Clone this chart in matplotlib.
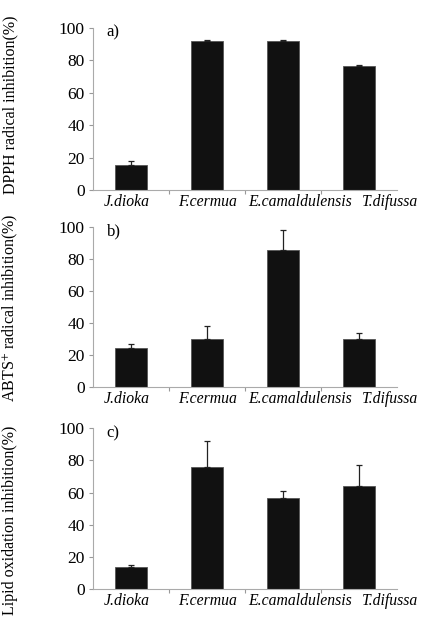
import matplotlib
matplotlib.use("Agg")
import matplotlib.pyplot as plt
import matplotlib.transforms as mtransforms
import numpy as np

categories = ["J.dioka", "F.cermua", "E.camaldulensis", "T.difussa"]
dpph = [15.2, 91.8, 92.2, 76.4]
dpph_err = [2.8, 0.6, 0.5, 0.6]
abts = [24.0, 29.6, 85.5, 29.6]
abts_err = [2.6, 8.6, 12.3, 3.7]
lipid = [13.6, 75.8, 56.7, 64.4]
lipid_err = [1.6, 16.3, 4.3, 13.0]
panel_labels = ["a)", "b)", "c)"]
ylabels = ["DPPH radical inhibition(%)",
           "ABTS$^{+}$ radical inhibition(%)",
           "Lipid oxidation inhibition(%)"]
yticks = [0, 20, 40, 60, 80, 100]

plt.rcParams['font.family'] = ['Liberation Serif', 'DejaVu Serif']
plt.rcParams['mathtext.fontset'] = 'stix'

fig = plt.figure(figsize=(4.26, 6.21), dpi=100)
W, H = 426, 621
boxes = [(93, 28, 397, 190), (93, 226.7, 397, 386.7), (93, 428.3, 397, 589)]
ylab_y = [105, 308, 520]
label_shift_px = [-4.5, 0.5, 17, 31]
datasets = [(dpph, dpph_err), (abts, abts_err), (lipid, lipid_err)]

for i, ((vals, errs), box) in enumerate(zip(datasets, boxes)):
    x0, yt, x1, yb = box
    ax = fig.add_axes([x0 / W, 1 - yb / H, (x1 - x0) / W, (yb - yt) / H])
    x = np.arange(len(categories))
    ax.bar(x, vals, width=0.41, color="#111111", edgecolor="#555555", linewidth=0.6,
           yerr=[np.zeros(len(errs)), errs], error_kw=dict(ecolor="#222222", elinewidth=0.9,
                                                           capsize=2.2, capthick=0.9))
    ax.set_xlim(-0.5, 3.5)
    ax.set_ylim(0, 100)
    ax.set_yticks(yticks)
    ax.set_yticklabels([str(t) for t in yticks], fontsize=12.5)
    ax.set_xticks([0.5, 1.5, 2.5])
    ax.set_xticklabels([])
    for xi, (cat, dx) in enumerate(zip(categories, label_shift_px)):
        tr = ax.get_xaxis_transform() + mtransforms.ScaledTranslation(
            dx / 100, -4 / 100, fig.dpi_scale_trans)
        ax.text(xi, 0, cat, transform=tr, ha="center", va="top",
                fontsize=11.3, style="italic")
    ax.tick_params(axis="x", length=3, color="#999999", direction="out")
    ax.tick_params(axis="y", length=3, color="#999999", direction="out", pad=3)
    for s in ["top", "right"]:
        ax.spines[s].set_visible(False)
    for s in ["left", "bottom"]:
        ax.spines[s].set_color("#aaaaaa")
        ax.spines[s].set_linewidth(0.8)
    ax.text(0.045, 1.02, panel_labels[i], transform=ax.transAxes, fontsize=12,
            va="top", ha="left")
    fig.text(10 / W, 1 - ylab_y[i] / H, ylabels[i], rotation=90, va="center",
             ha="center", fontsize=11.5)

fig.savefig("out.png", dpi=100, facecolor="white")
